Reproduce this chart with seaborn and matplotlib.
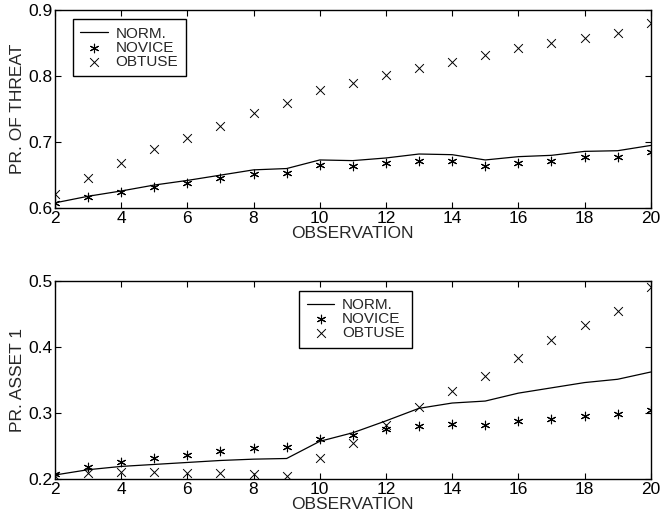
import numpy as np
import pandas as pd
import matplotlib
matplotlib.use("Agg")
import matplotlib.pyplot as plt
import seaborn as sns

obs = list(range(2, 21))

# top panel: probability of threat
threat_norm = [0.608, 0.618, 0.626, 0.635, 0.642, 0.650, 0.658, 0.660, 0.673, 0.672,
               0.676, 0.682, 0.681, 0.673, 0.678, 0.680, 0.686, 0.687, 0.695]
threat_novice = [0.608, 0.617, 0.624, 0.632, 0.638, 0.645, 0.651, 0.653, 0.665, 0.664,
                 0.668, 0.672, 0.672, 0.664, 0.669, 0.671, 0.678, 0.678, 0.685]
threat_obtuse = [0.622, 0.646, 0.668, 0.689, 0.707, 0.725, 0.744, 0.760, 0.779, 0.789,
                 0.801, 0.812, 0.821, 0.832, 0.842, 0.850, 0.858, 0.866, 0.880]

# bottom panel: probability of asset 1
asset_norm = [0.206, 0.214, 0.219, 0.222, 0.225, 0.228, 0.230, 0.231, 0.257, 0.270,
              0.288, 0.307, 0.315, 0.318, 0.330, 0.338, 0.346, 0.351, 0.362]
asset_novice = [0.208, 0.218, 0.225, 0.231, 0.237, 0.242, 0.247, 0.249, 0.261, 0.267,
                0.275, 0.280, 0.283, 0.282, 0.288, 0.291, 0.296, 0.298, 0.304]
asset_obtuse = [0.205, 0.209, 0.211, 0.211, 0.209, 0.209, 0.208, 0.205, 0.231, 0.254,
                0.282, 0.309, 0.333, 0.356, 0.383, 0.410, 0.433, 0.455, 0.491]

sns.set_style("ticks")
plt.rcParams['font.family'] = ['Liberation Sans', 'DejaVu Sans']
plt.rcParams['xtick.direction'] = 'in'
plt.rcParams['ytick.direction'] = 'in'

fig = plt.figure(figsize=(6.62, 5.31), dpi=100)
ax1 = fig.add_axes([0.083, 0.608, 0.900, 0.373])
ax2 = fig.add_axes([0.083, 0.098, 0.900, 0.373])

star = (6, 2, 0)


def panel(ax, norm, novice, obtuse, ylim, yticks, ylabel, legend_loc):
    sns.lineplot(x=obs, y=norm, ax=ax, color='black', linewidth=0.9, label='NORM.')
    sns.scatterplot(x=obs, y=novice, ax=ax, marker=star, s=38, color='black',
                    edgecolor='black', linewidth=0.8, label='NOVICE')
    sns.scatterplot(x=obs, y=obtuse, ax=ax, marker='x', s=40, color='black',
                    linewidth=0.7, label='OBTUSE')
    ax.set_xlim(2, 20)
    ax.set_ylim(*ylim)
    ax.set_xticks(range(2, 21, 2))
    ax.set_yticks(yticks)
    ax.set_yticklabels([f'{t:.1f}' for t in yticks])
    ax.tick_params(axis='both', which='both', top=True, right=True, length=4,
                   width=0.8, labelsize=12.5, pad=2, color='black', labelcolor='black')
    for sp in ax.spines.values():
        sp.set_visible(True)
        sp.set_color('black')
        sp.set_linewidth(1.0)
    ax.set_xlabel('OBSERVATION', fontsize=12.5, labelpad=0)
    ax.set_ylabel(ylabel, fontsize=12.5, labelpad=2)
    leg = ax.legend(loc='upper left', bbox_to_anchor=legend_loc, fontsize=11,
                    frameon=True, fancybox=False, framealpha=1, edgecolor='black',
                    handlelength=1.8, handletextpad=0.5, labelspacing=0.0,
                    borderpad=0.5, borderaxespad=0)
    leg.get_frame().set_linewidth(1.0)


panel(ax1, threat_norm, threat_novice, threat_obtuse, (0.6, 0.9),
      [0.6, 0.7, 0.8, 0.9], 'PR. OF THREAT', (0.03, 0.955))
panel(ax2, asset_norm, asset_novice, asset_obtuse, (0.2, 0.5),
      [0.2, 0.3, 0.4, 0.5], 'PR. ASSET 1', (0.41, 0.95))

fig.savefig('out.png', dpi=100)
